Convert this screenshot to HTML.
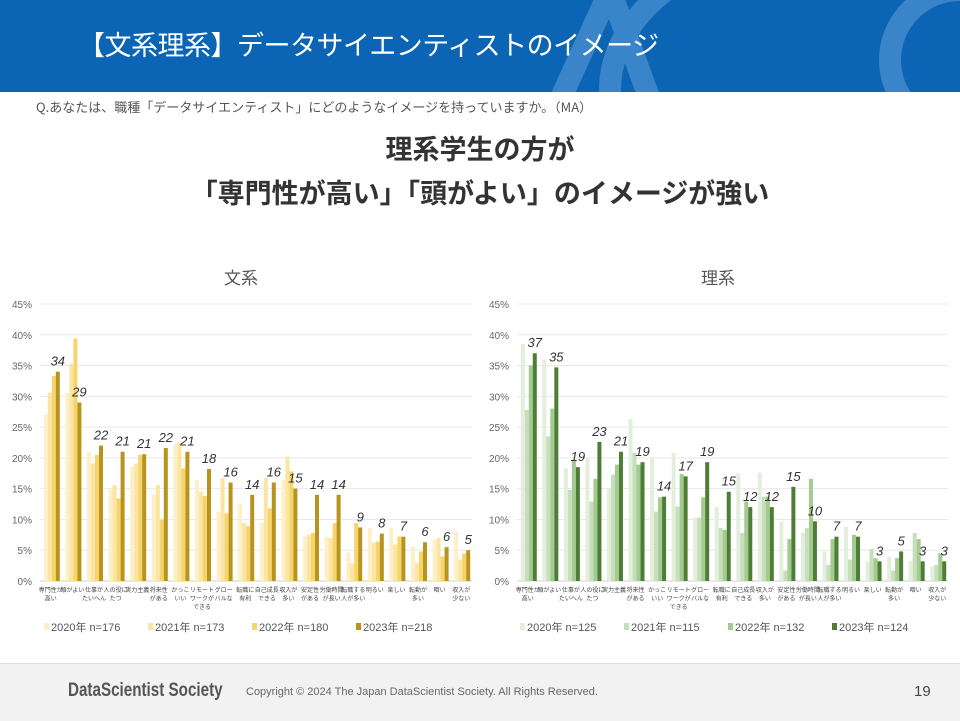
<!DOCTYPE html>
<html><head><meta charset="utf-8">
<style>
body{margin:0;width:960px;height:720px;position:relative;overflow:hidden;background:#fff;font-family:"Liberation Sans","Noto Sans CJK JP",sans-serif;}
#hdr{position:absolute;left:0;top:0;width:960px;height:92px;background:#0b65b4;overflow:hidden}
#hdr h1{position:absolute;left:78px;top:24px;margin:0;font-weight:normal;font-size:27px;color:#fff;font-family:"Noto Sans CJK JP",sans-serif;letter-spacing:-0.5px}
#q{position:absolute;left:36px;top:97px;font-size:13px;color:#555;font-family:"Noto Sans CJK JP",sans-serif}
.h2{position:absolute;left:0;width:960px;text-align:center;font-weight:bold;color:#333;font-size:27px;font-family:"Noto Sans CJK JP",sans-serif}
#foot{position:absolute;left:0;top:663px;width:960px;height:57px;background:#f2f2f2;border-top:1px solid #ddd}
svg text{font-family:"Liberation Sans","Noto Sans CJK JP",sans-serif}
</style></head><body>
<div id="hdr">
<svg width="960" height="92" style="position:absolute;left:0;top:0">
<path d="M560 100 L610 -10 M610 -10 L650 100" stroke="#3a85c9" stroke-width="22" fill="none"/>
<ellipse cx="830" cy="90" rx="220" ry="150" stroke="#3a85c9" stroke-width="22" fill="none"/>
<circle cx="960" cy="60" r="70" stroke="#3a85c9" stroke-width="22" fill="none"/>
</svg>
<h1>【文系理系】データサイエンティストのイメージ</h1>
</div>
<div id="q">Q.あなたは、職種「データサイエンティスト」にどのようなイメージを持っていますか。（MA）</div>
<div class="h2" style="top:128px">理系学生の方が</div>
<div class="h2" style="top:172px">「専門性が高い」「頭がよい」のイメージが強い</div>
<svg id="charts" width="960" height="660" style="position:absolute;left:0;top:0"></svg>
<div id="foot">
<div style="position:absolute;left:68px;top:16px;font-size:19px;font-weight:bold;color:#555;font-family:'Liberation Sans Narrow','Liberation Sans',sans-serif;transform:scaleX(0.8);transform-origin:left">DataScientist Society</div>
<div style="position:absolute;left:246px;top:22px;font-size:11px;color:#666">Copyright © 2024  The Japan DataScientist Society. All Rights Reserved.</div>
<div style="position:absolute;left:914px;top:19px;font-size:15px;color:#444">19</div>
</div>
<script>
const categories=["専門性が|高い","頭がよい","仕事が|たいへん","人の役に|たつ","実力主義","将来性|がある","かっこ|いい","リモート|ワークが|できる","グロー|バルな","転職に|有利","自己成長|できる","収入が|多い","安定性|がある","労働時間|が長い","転職する|人が多い","明るい","楽しい","転勤が|多い","暗い","収入が|少ない"];
const yTicks=[0,5,10,15,20,25,30,35,40,45];
const bunkei2020=[27,30.6,21,15.1,18.6,14,22.1,16.4,11.3,12.6,9.4,16.4,7.2,7.2,4.6,8.6,8.6,5.6,6.7,8];
const bunkei2021=[30.6,35.3,19.1,15.6,19.1,15.6,22.4,14.5,16.7,9.4,16.7,20.2,7.5,7,2.9,6.2,5.9,2.9,7,3.5];
const bunkei2022=[33.3,39.4,20.5,13.4,20.5,10,18.3,13.8,11,8.9,11.8,17.8,7.8,9.4,9.4,6.4,7.2,4.8,4,4.5];
const bunkei2023=[34,29,22,21,20.6,21.6,21,18.2,16,14,16,15,14,14,8.7,7.7,7.2,6.3,5.5,5];
const bunkeiLabels=[34,29,22,21,21,22,21,18,16,14,16,15,14,14,9,8,7,6,6,5];
const rikei2020=[38.5,36,18.3,20,15.1,26.3,20,20.8,10.3,12,17.5,17.6,9.7,7.9,4.8,8.8,3.2,4,3.2,2.4];
const rikei2021=[27.8,23.5,14.8,12.9,17.3,20.8,11.3,12.1,10.3,8.6,7.8,13.7,1.7,8.6,2.6,3.5,5.2,1.7,7.8,2.6];
const rikei2022=[35,28,19.7,16.6,18.9,18.9,13.6,17.4,13.6,8.3,12.9,13.7,6.8,16.6,6.8,7.5,3.7,3.7,6.8,4.5];
const rikei2023=[37,34.7,18.5,22.6,21,19.3,13.7,17,19.3,14.5,12,12,15.3,9.7,7.2,7.2,3.2,4.8,3.2,3.2];
const rikeiLabels=[37,35,19,23,21,19,14,17,19,15,12,12,15,10,7,7,3,5,3,3];
const bunkeiLegend=["2020年 n=176","2021年 n=173","2022年 n=180","2023年 n=218"];
const rikeiLegend=["2020年 n=125","2021年 n=115","2022年 n=132","2023年 n=124"];

const NS="http://www.w3.org/2000/svg";
const svg=document.getElementById('charts');
function mk(tag,attrs,parent){const e=document.createElementNS(NS,tag);for(const k in attrs)e.setAttribute(k,attrs[k]);(parent||svg).appendChild(e);return e;}
function drawChart(o){
  const g=mk('g',{});
  
  
  const y0=581,y45=304;
  const yS=v=>y0-(v/45)*(y0-y45);
  const bw=(o.x1-o.x0)/categories.length;
  const xS=i=>o.x0+i*bw;
  const t=mk('text',{x:o.titleX,y:284,'text-anchor':'middle','font-size':17,fill:'#555'},g);t.textContent=o.title;
  
  
  yTicks.forEach(v=>{
    const l=mk('line',{x1:o.x0,x2:o.x1,y1:yS(v),y2:yS(v),stroke:v===0?'#d0d0d0':'#e8e8e8','stroke-width':1},g);
    
    
    const tx=mk('text',{x:o.x0-8,y:yS(v)+4,'text-anchor':'end','font-size':10,fill:'#666'},g);tx.textContent=v+'%';
    
    
  });
  const series=o.series,barW=4;
  categories.forEach((c,i)=>{
    const start=xS(i)+bw/2-2*barW+1;
    series.forEach((s,j)=>{
      const r=mk('rect',{x:start+j*barW,y:yS(s[i]),width:barW,height:yS(0)-yS(s[i]),fill:o.colors[j]},g);
      
      
    });
    const lb=mk('text',{x:start+3*barW+2,y:yS(series[3][i])-6,'text-anchor':'middle','font-size':13,'font-style':'italic',fill:'#333'},g);
    lb.textContent=o.labels[i];
    
    
    c.split('|').forEach((p,k)=>{
      const ct=mk('text',{x:xS(i)+bw/2,y:592+k*8.5,'text-anchor':'middle','font-size':6,fill:'#444'},g);ct.textContent=p;
      
      
    });
  });
  o.legend.forEach((L,j)=>{
    const lx=o.legX+j*104;
    const r=mk('rect',{x:lx,y:623,width:5,height:7,fill:o.colors[j]},g);
    
    
    const lt=mk('text',{x:lx+7,y:631,'font-size':11,fill:'#555'},g);lt.textContent=L;
    
    
  });
}
drawChart({name:'bunkei',title:'文系',titleX:241,x0:40,x1:472,series:[bunkei2020,bunkei2021,bunkei2022,bunkei2023],labels:bunkeiLabels,colors:['#fdf0c8','#fbe5a0','#f5d46c','#b8931e'],legend:bunkeiLegend,legX:44});
drawChart({name:'rikei',title:'理系',titleX:718,x0:517,x1:948,series:[rikei2020,rikei2021,rikei2022,rikei2023],labels:rikeiLabels,colors:['#e3efdc','#c6dfba','#a3ca90','#4e7d35'],legend:rikeiLegend,legX:520});
</script>
</body></html>
